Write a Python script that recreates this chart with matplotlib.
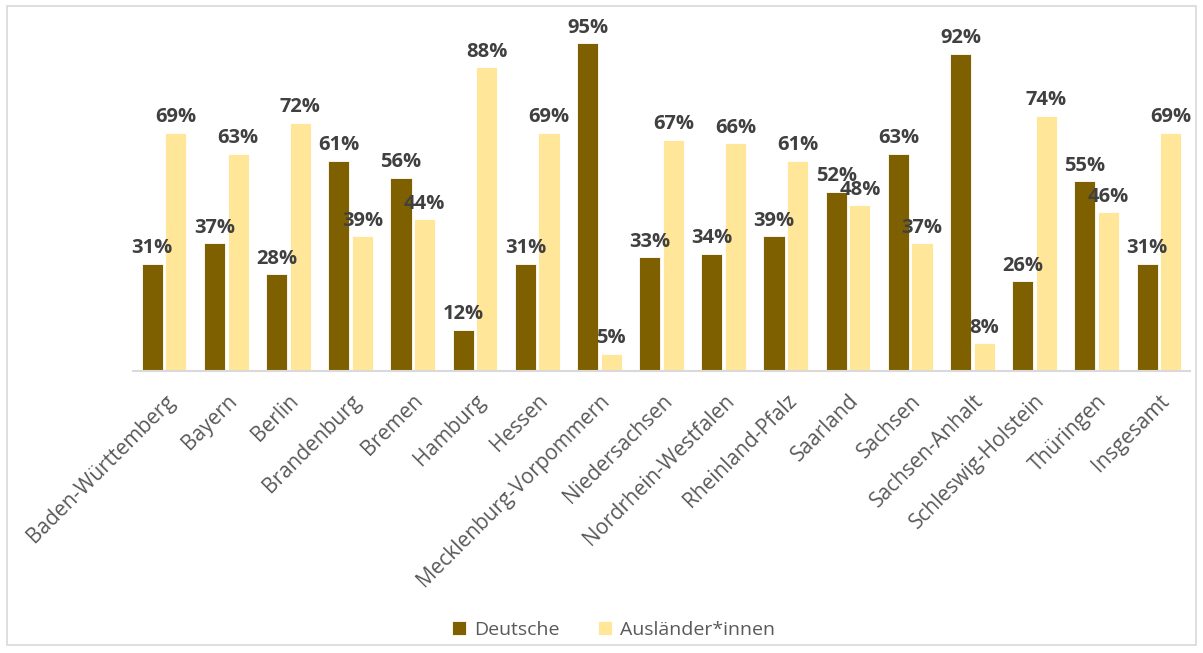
import matplotlib
matplotlib.use("Agg")
import matplotlib.pyplot as plt
import numpy as np
from matplotlib.patches import Rectangle

laender = ["Baden-Württemberg", "Bayern", "Berlin", "Brandenburg", "Bremen", "Hamburg",
           "Hessen", "Mecklenburg-Vorpommern", "Niedersachsen", "Nordrhein-Westfalen",
           "Rheinland-Pfalz", "Saarland", "Sachsen", "Sachsen-Anhalt", "Schleswig-Holstein",
           "Thüringen", "Insgesamt"]
deutsche = [31, 37, 28, 61, 56, 12, 31, 95, 33, 34, 39, 52, 63, 92, 26, 55, 31]
auslaender = [69, 63, 72, 39, 44, 88, 69, 5, 67, 66, 61, 48, 37, 8, 74, 46, 69]

plt.rcParams['font.family'] = ['Open Sans', 'DejaVu Sans']

W, H = 1203, 653
fig = plt.figure(figsize=(W / 100, H / 100), dpi=100)
ax = fig.add_axes([133 / W, (H - 371) / H, (1190 - 133) / W, (371 - 26) / H])

x = np.arange(len(laender))
bw = 0.34
off = 0.19
b1 = ax.bar(x - off, deutsche, bw, color='#7F6000', edgecolor='white', linewidth=0.6, label='Deutsche')
b2 = ax.bar(x + off, auslaender, bw, color='#FFE699', edgecolor='white', linewidth=0.6, label='Ausländer*innen')

for bars, vals in [(b1, deutsche), (b2, auslaender)]:
    for r, v in zip(bars, vals):
        ax.annotate(f"{v}%", (r.get_x() + r.get_width() / 2, v), xytext=(0, 4),
                    textcoords='offset points', ha='center', va='bottom',
                    fontsize=14.5, fontweight='bold', color='#404040')

ax.set_xlim(-0.5, len(laender) - 0.5)
ax.set_ylim(0, 100)
ax.set_yticks([])
for s in ['top', 'right', 'left']:
    ax.spines[s].set_visible(False)
ax.spines['bottom'].set_color('#D9D9D9')
ax.spines['bottom'].set_linewidth(1.5)
ax.set_xticks(x)
ax.set_xticklabels(laender, rotation=45, ha='right', rotation_mode='anchor',
                   fontsize=15, color='#595959')
ax.tick_params(axis='x', length=0, pad=14)

fig.legend(handles=[b1, b2], loc='center', bbox_to_anchor=(0.51, (H - 630) / H), ncol=2,
           frameon=False, fontsize=14, labelcolor='#595959', handlelength=0.7,
           handleheight=0.7, columnspacing=2.0, handletextpad=0.4)

fig.patches.append(Rectangle((7 / W, 1 - 645 / H), (1196 - 7) / W, (645 - 6) / H,
                             transform=fig.transFigure, fill=False,
                             edgecolor='#D9D9D9', linewidth=1.2))

fig.savefig('out.png', dpi=100)
